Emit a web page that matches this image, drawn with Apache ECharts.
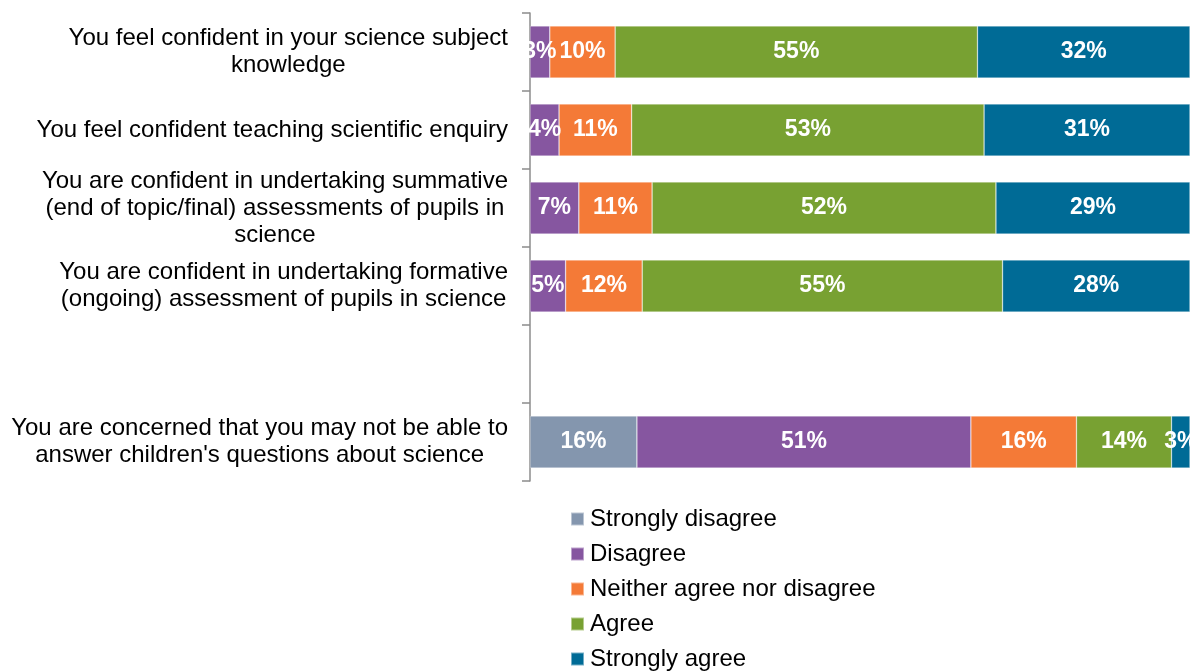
<!DOCTYPE html>
<html>
<head>
<meta charset="utf-8">
<script src="https://cdn.jsdelivr.net/npm/echarts@6/dist/echarts.min.js"></script>
<style>
  html, body { margin: 0; padding: 0; background: #fff; }
  #chart { width: 1194px; height: 671px; }
</style>
</head>
<body>
<div id="chart"></div>
<script>
// categories, top to bottom (the blank one is the gap row)
const categories = [
  "You feel confident in your science subject\nknowledge",
  "You feel confident teaching scientific enquiry",
  "You are confident in undertaking summative\n(end of topic/final) assessments of pupils in\nscience",
  "You are confident in undertaking formative\n(ongoing) assessment of pupils in science",
  " ",
  "You are concerned that you may not be able to\nanswer children's questions about science"
];

const seriesNames = ["Strongly disagree", "Disagree", "Neither agree nor disagree", "Agree", "Strongly agree"];

// percentages
const stronglyDisagree = [null, null, null, null, null, 16.2];
const disagree         = [3.0, 4.4, 7.4, 5.4, null, 50.6];
const neither          = [9.9, 11.0, 11.1, 11.6, null, 16.0];
const agree            = [54.9, 53.4, 52.1, 54.6, null, 14.4];
const stronglyAgree    = [32.2, 31.2, 29.4, 28.4, null, 2.8];

const colors = ['#8496AE', '#8656A0', '#F47A37', '#78A132', '#006B96'];

const allData = [stronglyDisagree, disagree, neither, agree, stronglyAgree];

let myChart = echarts.init(document.getElementById('chart'));

myChart.setOption({
  animation: false,
  color: colors,
  textStyle: { fontFamily: 'Liberation Sans, Arial, sans-serif' },
  grid: {
    left: 530,
    right: 4,
    top: 13,
    height: 468
  },
  legend: {
    orient: 'vertical',
    left: 570,
    top: 507,
    height: 200,
    padding: 0,
    itemWidth: 13,
    itemHeight: 13,
    itemGap: 11,
    icon: 'rect',
    textStyle: { fontSize: 24, color: '#000', padding: [0, 0, 0, 1] },
    data: seriesNames
  },
  xAxis: {
    type: 'value',
    min: 0,
    max: 100,
    show: false
  },
  yAxis: {
    type: 'category',
    inverse: true,
    data: categories,
    axisLine: { show: true, lineStyle: { color: '#8c8c8c', width: 1.5 } },
    axisTick: { show: true, length: 8, lineStyle: { color: '#8c8c8c', width: 1.5 } },
    axisLabel: {
      margin: 22,
      formatter: function (v) {
        return v.split('\n').map(function (s) { return '{c|' + s + '}'; }).join('\n');
      },
      rich: {
        c: { align: 'center', fontSize: 24, lineHeight: 27, color: '#000', fontFamily: 'Liberation Sans, Arial, sans-serif' }
      }
    }
  },
  series: seriesNames.map(function (name, i) {
    return {
      name: name,
      type: 'bar',
      stack: 'total',
      barWidth: 52,
      data: allData[i],
      itemStyle: { borderColor: 'rgba(255,255,255,0.45)', borderWidth: 0.6 },
      label: {
        show: true,
        position: 'inside',
        color: '#fff',
        fontSize: 23,
        fontWeight: 'bold',
        fontFamily: 'Liberation Sans, Arial, sans-serif',
        formatter: function (p) {
          return p.value == null ? '' : Math.round(p.value) + '%';
        }
      }
    };
  })
});
</script>
</body>
</html>
